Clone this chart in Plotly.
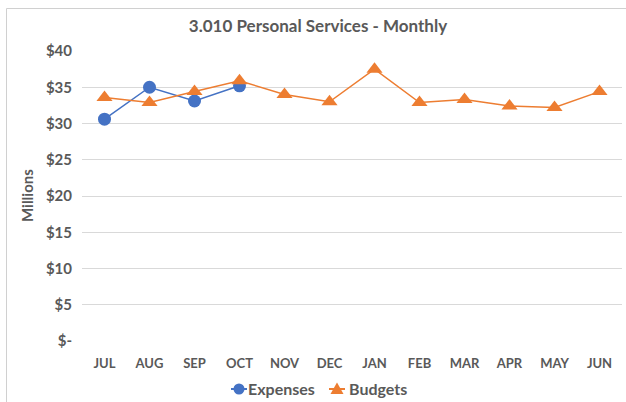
import plotly.graph_objects as go

months = ["JUL", "AUG", "SEP", "OCT", "NOV", "DEC", "JAN", "FEB", "MAR", "APR", "MAY", "JUN"]
expenses = [30.6, 35.0, 33.1, 35.2, None, None, None, None, None, None, None, None]
budgets = [33.6, 32.9, 34.4, 35.9, 34.0, 33.0, 37.5, 32.9, 33.3, 32.4, 32.2, 34.4]
tick_vals = [0, 5, 10, 15, 20, 25, 30, 35, 40]
tick_text = ["$-", "$5", "$10", "$15", "$20", "$25", "$30", "$35", "$40"]

FONT = "Lato"
GRAY = "#595959"
BLUE = "#4472C4"
ORANGE = "#ED7D31"

W, H = 626, 402
L, R, T, B = 82, 4, 51, 61
pw = W - L - R
ph = H - T - B


def px_x(px):
    return (px - L) / pw


def px_y(py):
    return (H - B - py) / ph


fig = go.Figure()
fig.add_trace(go.Scatter(
    x=months, y=expenses, name="Expenses", mode="lines+markers",
    line=dict(color=BLUE, width=1.5),
    marker=dict(symbol="circle", size=13, color=BLUE),
    showlegend=False,
))
fig.add_trace(go.Scatter(
    x=months, y=budgets, name="Budgets", mode="lines+markers",
    line=dict(color=ORANGE, width=1.5),
    marker=dict(symbol="triangle-up", size=14, color=ORANGE),
    showlegend=False,
))

# manual legend (Excel style: short line + marker, text close to marker)
leg_y = 389
shapes = [
    dict(type="line", xref="paper", yref="paper",
         x0=px_x(6.5), x1=px_x(6.5), y0=px_y(8.5), y1=px_y(H + 5),
         line=dict(color="#D0D0D0", width=1)),
    dict(type="line", xref="paper", yref="paper",
         x0=px_x(6.5), x1=px_x(W + 5), y0=px_y(8.5), y1=px_y(8.5),
         line=dict(color="#D0D0D0", width=1)),
    # Expenses legend
    dict(type="line", xref="paper", yref="paper",
         x0=px_x(231), x1=px_x(247), y0=px_y(leg_y), y1=px_y(leg_y),
         line=dict(color=BLUE, width=2)),
    dict(type="circle", xref="paper", yref="paper",
         x0=px_x(239 - 5.5), x1=px_x(239 + 5.5), y0=px_y(leg_y + 5.5), y1=px_y(leg_y - 5.5),
         fillcolor=BLUE, line=dict(color=BLUE, width=0)),
    # Budgets legend
    dict(type="line", xref="paper", yref="paper",
         x0=px_x(329), x1=px_x(345), y0=px_y(leg_y), y1=px_y(leg_y),
         line=dict(color=ORANGE, width=2)),
    dict(type="path", xref="paper", yref="paper",
         path="M {a},{b} L {c},{d} L {e},{f} Z".format(
             a=px_x(337), b=px_y(leg_y - 6.5),
             c=px_x(330.5), d=px_y(leg_y + 5),
             e=px_x(343.5), f=px_y(leg_y + 5)),
         fillcolor=ORANGE, line=dict(color=ORANGE, width=0)),
]

annotations = [
    dict(text="<b>Expenses</b>", xref="paper", yref="paper", x=px_x(246), y=px_y(leg_y),
         xanchor="left", yanchor="middle", showarrow=False,
         font=dict(size=16, color=GRAY, family=FONT)),
    dict(text="<b>Budgets</b>", xref="paper", yref="paper", x=px_x(347), y=px_y(leg_y),
         xanchor="left", yanchor="middle", showarrow=False,
         font=dict(size=16, color=GRAY, family=FONT)),
    dict(text="<b>Millions</b>", xref="paper", yref="paper", x=px_x(27), y=px_y(196),
         xanchor="center", yanchor="middle", showarrow=False, textangle=-90,
         font=dict(size=15, color=GRAY, family=FONT)),
]

fig.update_layout(
    width=W, height=H,
    margin=dict(l=L, r=R, t=T, b=B, autoexpand=False),
    paper_bgcolor="white", plot_bgcolor="white",
    font=dict(family=FONT, color=GRAY, size=12),
    title=dict(text="<b>3.010 Personal Services - Monthly</b>",
               x=(318 / W), xanchor="center", y=1 - 26 / H, yanchor="middle",
               font=dict(size=17, color=GRAY, family=FONT)),
    showlegend=False,
    xaxis=dict(type="category", showgrid=False, showline=False, ticks="",
               tickfont=dict(size=13, color=GRAY, family=FONT, weight="bold"),
               ticklabelstandoff=13, range=[-0.5, 11.5], automargin=False),
    yaxis=dict(range=[0, 40], tickvals=tick_vals, ticktext=tick_text,
               showgrid=True, gridcolor="#D9D9D9", gridwidth=1,
               zeroline=False, showline=False, ticks="",
               tickfont=dict(size=15, color=GRAY, family=FONT, weight="bold"),
               ticklabelstandoff=9, automargin=False),
    shapes=shapes,
    annotations=annotations,
)
fig.write_html("out.html", config={"displayModeBar": False},
               post_script="document.body.style.margin='0';document.body.style.padding='0';")
